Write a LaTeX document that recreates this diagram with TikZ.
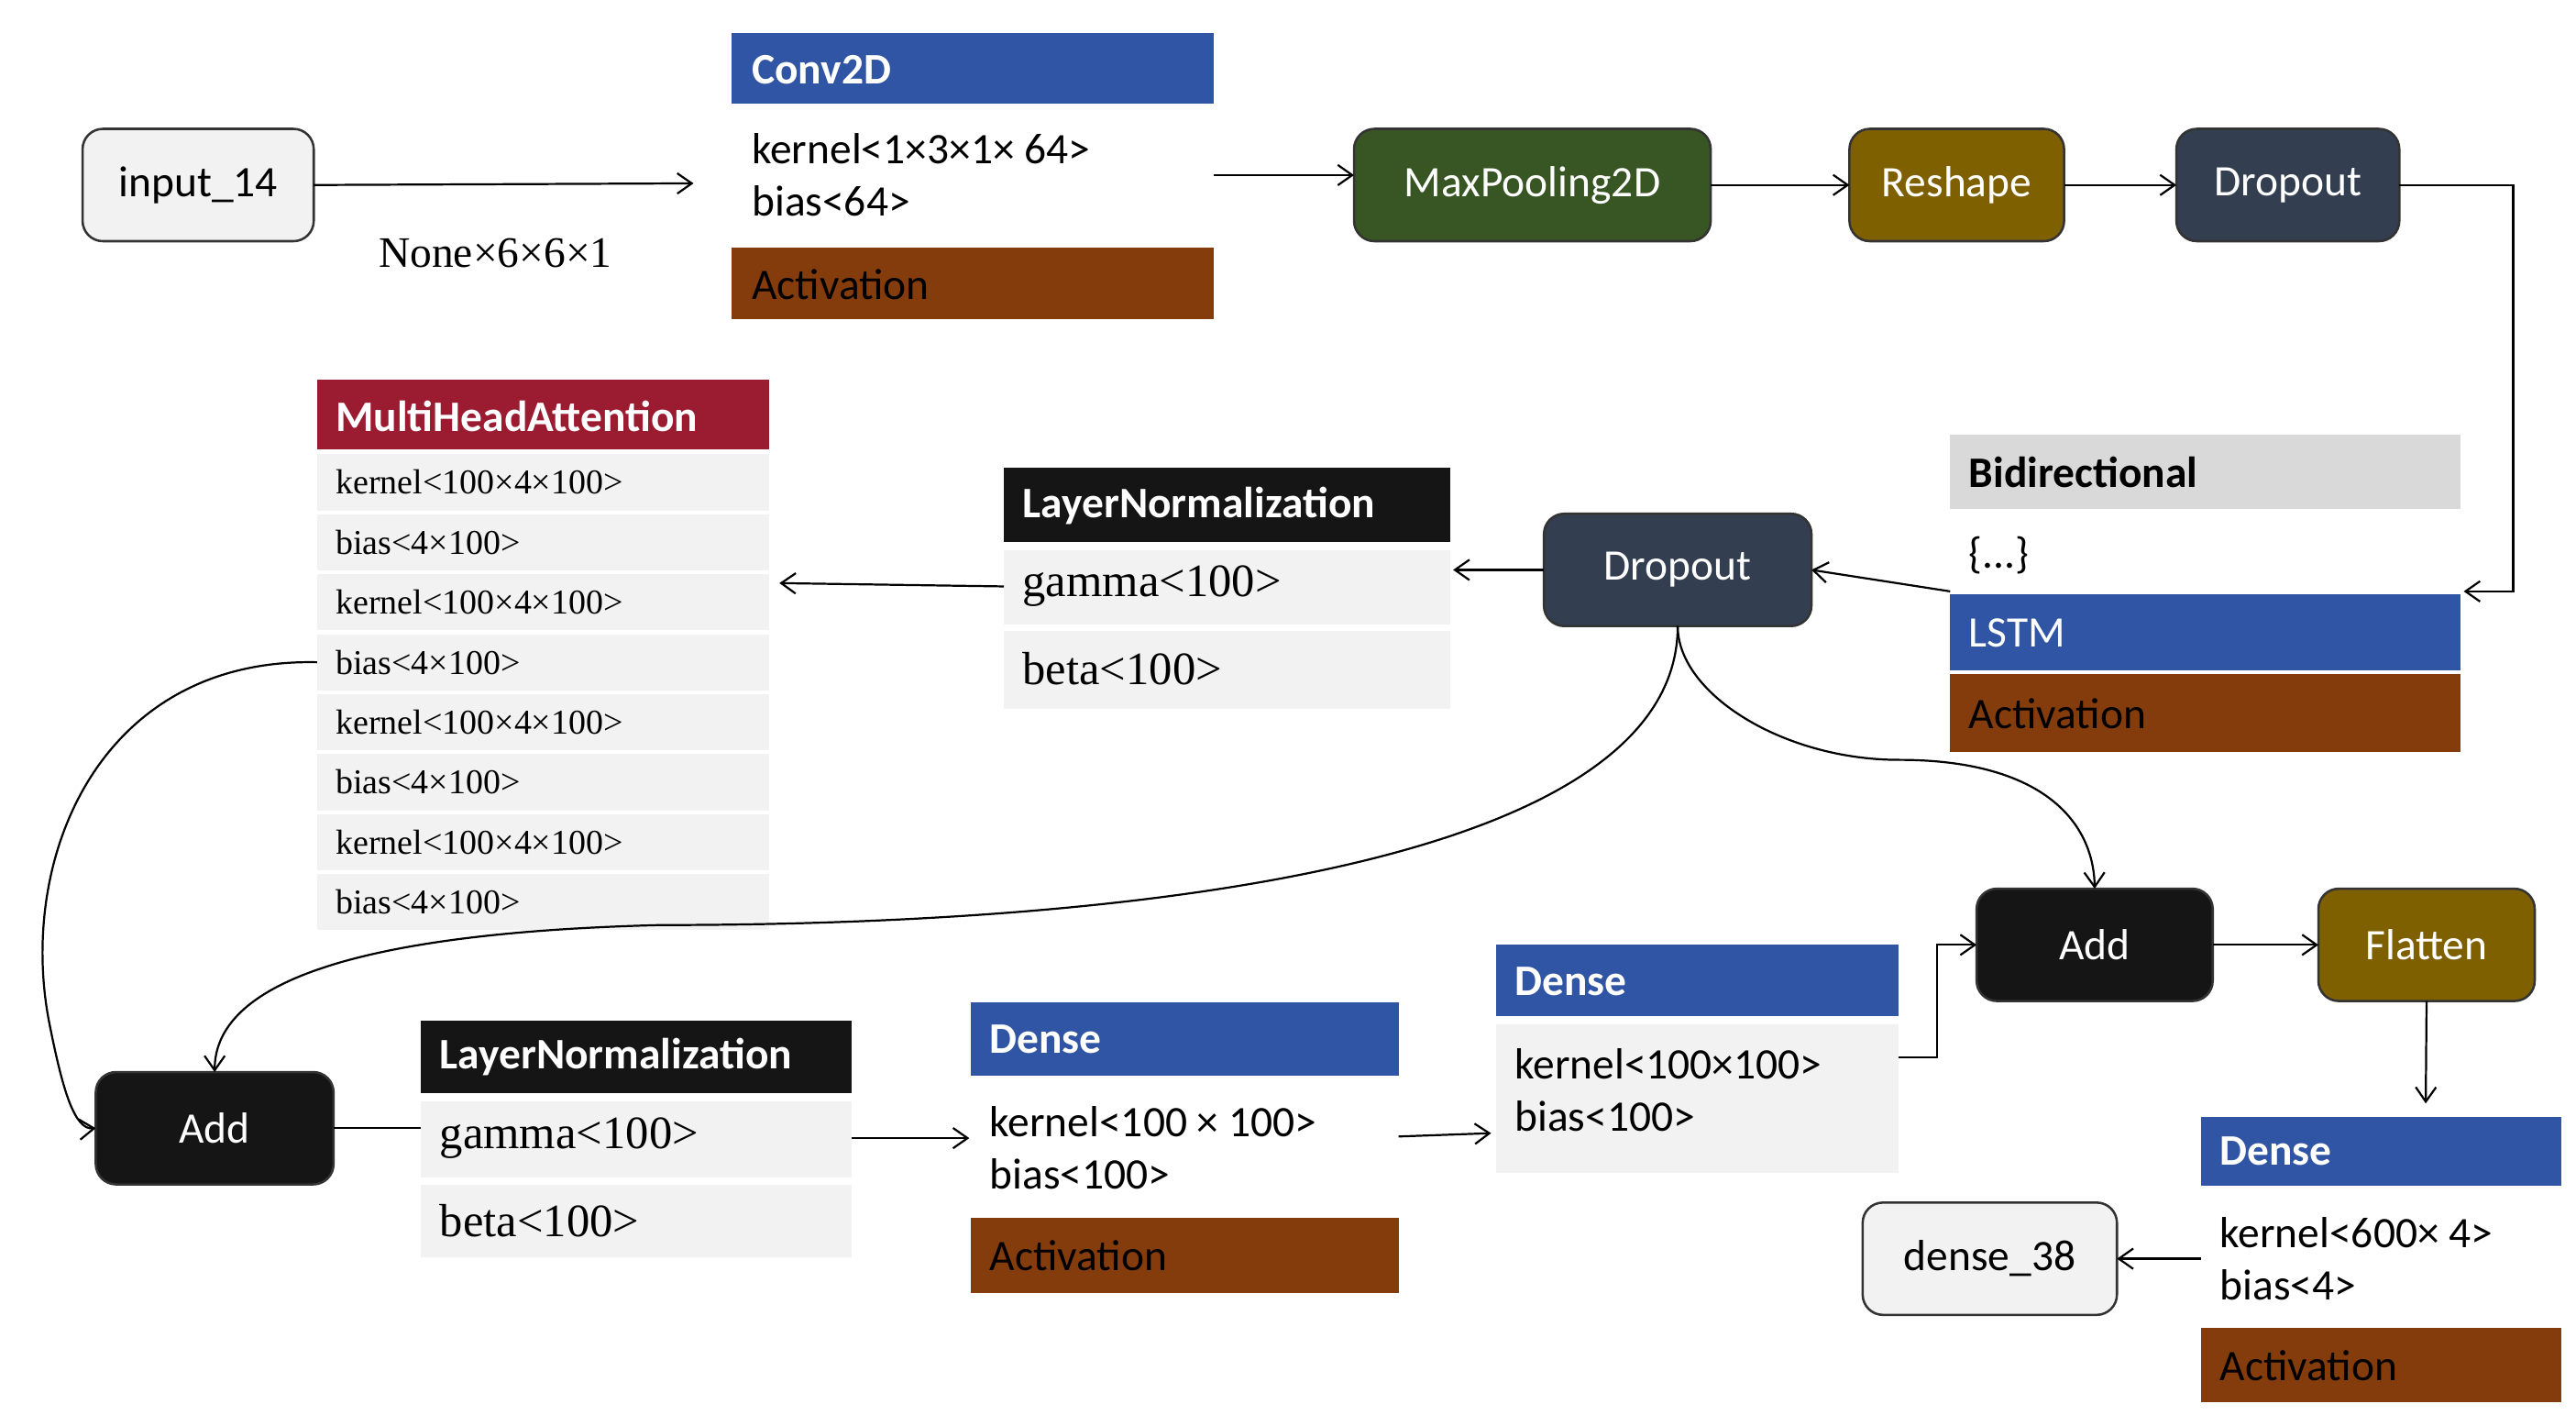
\documentclass[tikz,border=0pt]{standalone}
\usepackage{fontspec}
\setmainfont{Carlito}
\newfontfamily\serif{Liberation Serif}
\usetikzlibrary{fit,arrows.meta}
\definecolor{cblue}{HTML}{2F55A4}
\definecolor{cbrown}{HTML}{843C0C}
\definecolor{cgreen}{HTML}{375623}
\definecolor{colive}{HTML}{7F6000}
\definecolor{cslate}{HTML}{333F50}
\definecolor{cblack}{HTML}{151515}
\definecolor{clg}{HTML}{F2F2F2}
\definecolor{cbg}{HTML}{D9D9D9}
\definecolor{cred}{HTML}{9B1B30}
\begin{document}
\begin{tikzpicture}[x=0.02cm,y=-0.02cm,
  r/.style={inner sep=0,outer sep=0,draw=none},
  rb/.style={inner sep=0,outer sep=0,rounded corners=7pt,draw=black!80,line width=0.8pt},
  wt/.style={text=white,font=\fontsize{15}{18}\selectfont},
  ht/.style={anchor=west,font=\bfseries\fontsize{15}{18}\selectfont,inner sep=0},
  bt/.style={anchor=west,font=\fontsize{15}{18}\selectfont,inner sep=0,align=left},
  st/.style={anchor=west,font=\serif\fontsize{12}{14}\selectfont,inner sep=0},
  gt/.style={anchor=west,font=\serif\fontsize{16}{18}\selectfont,inner sep=0},
  ar/.style={-{Straight Barb[length=5pt,width=7pt]},line width=0.7pt}]
\useasboundingbox (0,0) rectangle (1560,863);
% input
\node[rb,fill=clg,fit={(50,78)(190,146)}] (in) {};
\node[font=\fontsize{15}{18}\selectfont] at (in) {input\_14};
\node[font=\serif\fontsize{15}{18}\selectfont] (none) at (300,153) {None×6×6×1};
% conv2d
\node[r,fill=cblue,fit={(443,20)(735,63)}] (convh) {};
\node[ht,text=white] at (455,42) {Conv2D};
\node[r,fit={(443,63)(735,150)}] (convb) {};
\node[bt] at (455,106) {kernel<1×3×1× 64>\\bias<64>};
\node[r,fill=cbrown,fit={(443,150)(735,193)}] (conva) {};
\node[bt] at (455,172) {Activation};
\coordinate (cin) at (420,111);
\draw[ar] (in.east) -- (cin);
\node[rb,fill=cgreen,fit={(820,78)(1036,146)}] (mp) {};
\node[wt] at (mp) {MaxPooling2D};
\draw[ar] (735,106) -- (mp.west |- 0,106);
\node[rb,fill=colive,fit={(1120,78)(1250,146)}] (rs) {};
\node[wt] at (rs) {Reshape};
\draw[ar] (mp) -- (rs);
\node[rb,fill=cslate,fit={(1318,78)(1453,146)}] (do1) {};
\node[wt] at (do1) {Dropout};
\draw[ar] (rs) -- (do1);
% bidirectional
\node[r,fill=cbg,fit={(1181,263)(1490,308)}] (bih) {};
\node[ht] at (1192,286) {Bidirectional};
\node[r,fit={(1181,308)(1490,360)}] (bib) {};
\node[bt] at (1192,336) {\{...\}};
\node[r,fill=cblue,fit={(1181,360)(1490,406)}] (lstm) {};
\node[bt,text=white] at (1192,383) {LSTM};
\node[r,fill=cbrown,fit={(1181,408)(1490,455)}] (bia) {};
\node[bt] at (1192,432) {Activation};
\draw[ar] (do1.east) -- (1522,112) -- (1522,358) -- (1492,358);
% dropout2
\node[rb,fill=cslate,fit={(935,311)(1097,379)}] (do2) {};
\node[wt] at (do2) {Dropout};
\draw[ar] (1181,358) -- (do2.east);
% layernorm 1
\node[r,fill=cblack,fit={(608,283)(878,328)}] (ln1h) {};
\node[ht,text=white] at (619,306) {LayerNormalization};
\node[r,fill=clg,fit={(608,333)(878,378)}] (ln1g) {};
\node[gt] at (619,355) {gamma<100>};
\node[r,fill=clg,fit={(608,382)(878,429)}] (ln1b) {};
\node[gt] at (619,405) {beta<100>};
\draw[ar] (do2.west) -- (880,345);
% MHA
\node[r,fill=cred,fit={(192,230)(466,272)}] (mhah) {};
\node[ht,text=white] at (203,252) {MultiHeadAttention};
\foreach \i/\t in {0/kernel<100×4×100>,1/bias<4×100>,2/kernel<100×4×100>,3/bias<4×100>,4/kernel<100×4×100>,5/bias<4×100>,6/kernel<100×4×100>,7/bias<4×100>}{
  \node[r,fill=clg,fit={(192,275+36.3*\i)(466,309+36.3*\i)}] (mha\i) {};
  \node[st] at (203,292+36.3*\i) {\t};
}
\draw[ar] (608,355) -- (472,353);
% Add1
\node[rb,fill=cblack,fit={(58,649)(202,717)}] (add1) {};
\node[wt] at (add1) {Add};
\draw[ar] (mha3.west) .. controls (60,398) and (10,520) .. (30,620) .. controls (38,660) and (45,684) .. (add1.west);
\draw[ar] (do2.south) .. controls (1016,520) and (700,560) .. (400,560) .. controls (200,565) and (130,600) .. (add1.north);
% Add2
\node[rb,fill=cblack,fit={(1197,538)(1340,606)}] (add2) {};
\node[wt] at (add2) {Add};
\draw[ar] (do2.south) .. controls (1016,420) and (1080,460) .. (1150,460) .. controls (1240,460) and (1268,500) .. (add2.north);
% LN2
\node[r,fill=cblack,fit={(255,618)(516,662)}] (ln2h) {};
\node[ht,text=white] at (266,640) {LayerNormalization};
\node[r,fill=clg,fit={(255,667)(516,713)}] (ln2g) {};
\node[gt] at (266,689) {gamma<100>};
\node[r,fill=clg,fit={(255,717)(516,761)}] (ln2b) {};
\node[gt] at (266,739) {beta<100>};
\draw[line width=0.7pt] (add1.east) -- (255,683);
% Dense1
\node[r,fill=cblue,fit={(588,607)(847,651)}] (d1h) {};
\node[ht,text=white] at (599,629) {Dense};
\node[r,fit={(588,651)(847,735)}] (d1b) {};
\node[bt] at (599,695) {kernel<100 × 100>\\bias<100>};
\node[r,fill=cbrown,fit={(588,737)(847,783)}] (d1a) {};
\node[bt] at (599,760) {Activation};
\draw[ar] (516,689) -- (587,689);
% Dense2
\node[r,fill=cblue,fit={(906,572)(1150,615)}] (d2h) {};
\node[ht,text=white] at (917,594) {Dense};
\node[r,fill=clg,fit={(906,620)(1150,710)}] (d2b) {};
\node[bt] at (917,660) {kernel<100×100>\\bias<100>};
\draw[ar] (847,688) -- (903,686);
\draw[ar] (1150,640) -- (1173,640) -- (1173,572) -- (add2.west);
% Flatten
\node[rb,fill=colive,fit={(1404,538)(1535,606)}] (fl) {};
\node[wt] at (fl) {Flatten};
\draw[ar] (add2) -- (fl);
% Dense3
\node[r,fill=cblue,fit={(1333,676)(1551,718)}] (d3h) {};
\node[ht,text=white] at (1344,697) {Dense};
\node[r,fit={(1333,718)(1551,800)}] (d3b) {};
\node[bt] at (1344,762) {kernel<600× 4>\\bias<4>};
\node[r,fill=cbrown,fit={(1333,804)(1551,849)}] (d3a) {};
\node[bt] at (1344,827) {Activation};
\draw[ar] (fl.south) -- (1469,668);
\node[rb,fill=clg,fit={(1128,728)(1282,796)}] (out) {};
\node[font=\fontsize{15}{18}\selectfont] at (out) {dense\_38};
\draw[ar] (1333,762) -- (out.east);
\end{tikzpicture}
\end{document}
